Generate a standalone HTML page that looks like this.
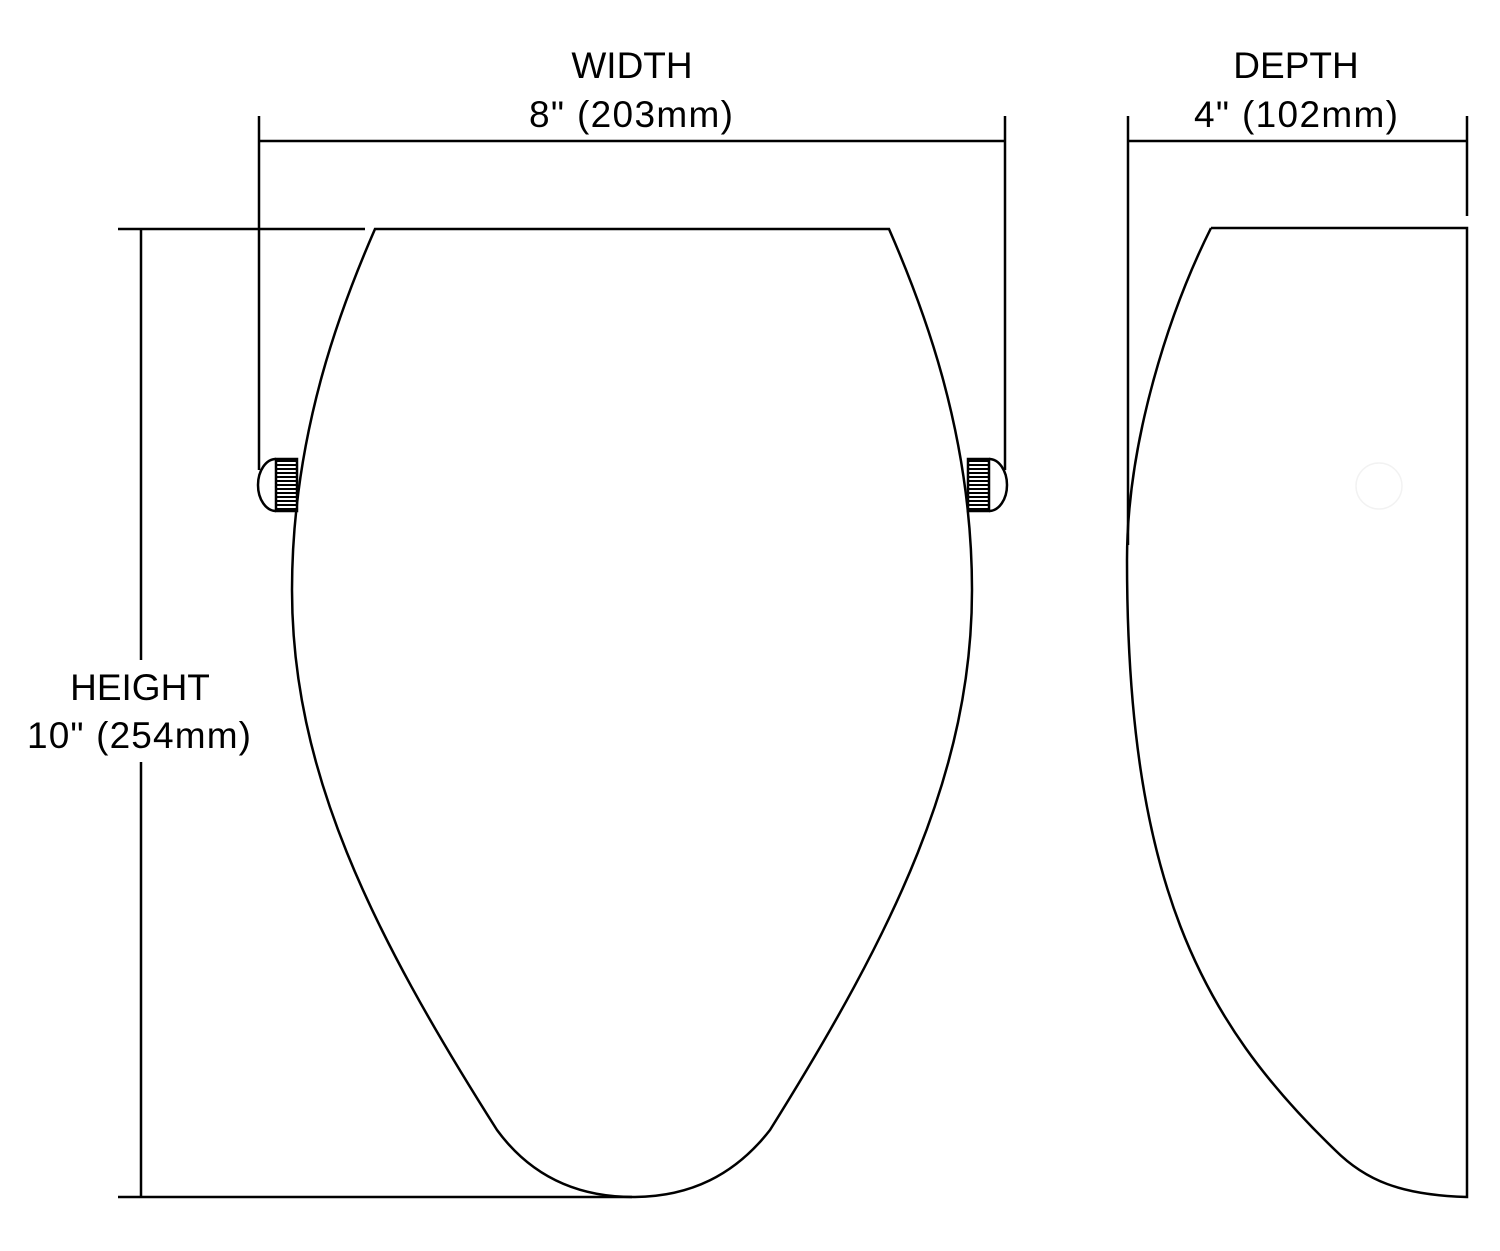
<!DOCTYPE html>
<html><head><meta charset="utf-8"><style>
html,body{margin:0;padding:0;background:#fff;}
svg{display:block;}
text{font-family:"Liberation Sans",Arial,sans-serif;font-size:37px;fill:#000;}
</style></head><body>
<svg width="1500" height="1251" viewBox="0 0 1500 1251" xmlns="http://www.w3.org/2000/svg">
<defs>
<pattern id="rib" width="4" height="4" patternUnits="userSpaceOnUse">
<rect width="4" height="4" fill="#fff"/><rect width="4" height="2" fill="#000"/>
</pattern>
</defs>
<g fill="none" stroke="#000" stroke-width="2.5">
<line x1="259" y1="116" x2="259" y2="470"/>
<line x1="1005" y1="116" x2="1005" y2="470"/>
<line x1="259" y1="141" x2="1005" y2="141"/>
<line x1="118" y1="229" x2="365" y2="229"/>
<line x1="118" y1="1197" x2="632" y2="1197"/>
<line x1="141" y1="229" x2="141" y2="660"/>
<line x1="141" y1="762" x2="141" y2="1197"/>
<path d="M375,229 L889,229 C920,300 972,430 972,590 C972,770 895,930 770,1130 C735,1175 690,1197 633,1197 C576,1197 530,1175 497,1130 C370,930 292,770 292,590 C292,430 344,300 375,229 Z"/>
<line x1="1128" y1="116" x2="1128" y2="545"/>
<line x1="1467" y1="116" x2="1467" y2="216"/>
<line x1="1128" y1="141" x2="1467" y2="141"/>
<path d="M1211,228 L1467,228 L1467,1197 C1400,1195 1365,1180 1335,1150 C1200,1020 1127,880 1127,560 C1127,440 1170,310 1211,228"/>
</g>
<g stroke="#000" stroke-width="2.5">
<path d="M276,459 A18,26 0 0 0 276,511" fill="#fff"/>
<rect x="276" y="459" width="21" height="52" fill="url(#rib)"/>
<path d="M989,459 A18,26 0 0 1 989,511" fill="#fff"/>
<rect x="968" y="459" width="21" height="52" fill="url(#rib)"/>
</g>
<circle cx="1379" cy="486" r="23" fill="none" stroke="#f2f2f2" stroke-width="1.5"/>
<text x="632" y="78" text-anchor="middle">WIDTH</text>
<text x="631" y="127" text-anchor="middle" textLength="204">8" (203mm)</text>
<text x="1296" y="78" text-anchor="middle">DEPTH</text>
<text x="1296" y="127" text-anchor="middle" textLength="204">4" (102mm)</text>
<text x="140" y="700" text-anchor="middle">HEIGHT</text>
<text x="139" y="748" text-anchor="middle" textLength="224">10" (254mm)</text>
</svg>
</body></html>
